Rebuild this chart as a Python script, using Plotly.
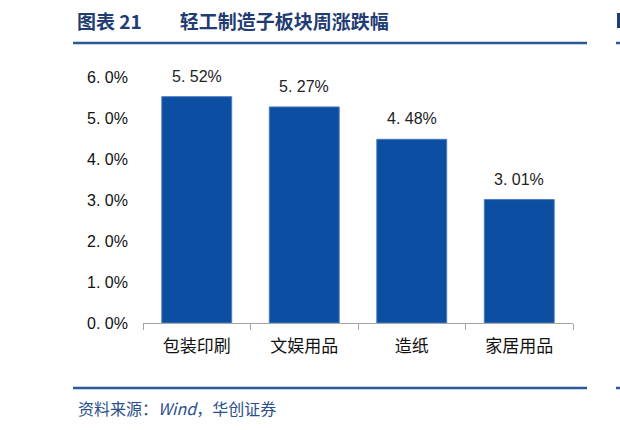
import plotly.graph_objects as go

categories = ["包装印刷", "文娱用品", "造纸", "家居用品"]
values = [5.52, 5.27, 4.48, 3.01]
label_texts = ["5. 52%", "5. 27%", "4. 48%", "3. 01%"]
tick_vals = [0, 1, 2, 3, 4, 5, 6]
tick_text = ["0. 0%", "1. 0%", "2. 0%", "3. 0%", "4. 0%", "5. 0%", "6. 0%"]
title_text = "图表 21\u3000\u3000轻工制造子板块周涨跌幅"
source_text = "资料来源：<i>Wind</i>，华创证券"

W, H = 620, 430
L, R, T, B = 143, 573, 77, 323

def px(x):
    return (x - L) / (R - L)

def py(y):
    return (B - y) / (B - T)

fig = go.Figure()
fig.add_trace(go.Bar(
    x=categories, y=values,
    marker=dict(color="#0B4EA2", line=dict(color="#4A7CC0", width=1)),
    width=0.65,
))

line_color = "#2B5A97"
shapes = [
    dict(type="line", xref="paper", yref="paper", x0=px(73), x1=px(587), y0=py(43), y1=py(43),
         line=dict(color=line_color, width=2.5)),
    dict(type="line", xref="paper", yref="paper", x0=px(616), x1=px(621), y0=py(43), y1=py(43),
         line=dict(color=line_color, width=2.5)),
    dict(type="rect", xref="paper", yref="paper", x0=px(617), x1=px(621), y0=py(28), y1=py(13),
         line=dict(width=0), fillcolor="#1F3C73"),
    dict(type="line", xref="paper", yref="paper", x0=px(73), x1=px(587), y0=py(388), y1=py(388),
         line=dict(color=line_color, width=2.5)),
    dict(type="line", xref="paper", yref="paper", x0=px(616), x1=px(621), y0=py(388), y1=py(388),
         line=dict(color=line_color, width=2.5)),
]

annotations = [
    dict(text="<b>" + title_text + "</b>", xref="paper", yref="paper", x=px(75), y=py(20),
         xanchor="left", yanchor="middle", showarrow=False,
         font=dict(family="Noto Sans CJK SC", size=19, color="#1F3C73")),
    dict(text=source_text, xref="paper", yref="paper", x=px(76), y=py(408),
         xanchor="left", yanchor="middle", showarrow=False,
         font=dict(family="Noto Sans CJK SC", size=16, color="#2B4F8A")),
]
for c, v, t in zip(categories, values, label_texts):
    annotations.append(dict(
        x=c, y=v, xref="x", yref="y", text=t, showarrow=False,
        xanchor="center", yanchor="bottom", yshift=10,
        font=dict(family="Liberation Sans, Arial", size=16, color="#222222"),
    ))

fig.update_layout(
    width=W, height=H,
    margin=dict(l=L, r=W - R, t=T, b=H - B),
    paper_bgcolor="white", plot_bgcolor="white",
    showlegend=False,
    shapes=shapes, annotations=annotations,
    bargap=0.35,
)
fig.update_xaxes(
    showline=True, linecolor="#A6A6A6", linewidth=1,
    ticks="outside", tickson="boundaries", ticklen=6, tickcolor="#A6A6A6",
    tickfont=dict(family="Noto Sans CJK SC", size=17, color="#111111"),
    ticklabelstandoff=8,
    showgrid=False,
)
fig.update_yaxes(
    range=[0, 6], tickvals=tick_vals, ticktext=tick_text,
    showline=False, showgrid=False, zeroline=False,
    ticks="", ticklabelstandoff=14,
    tickfont=dict(family="Liberation Sans, Arial", size=16, color="#111111"),
)

fig.write_html("out.html")
